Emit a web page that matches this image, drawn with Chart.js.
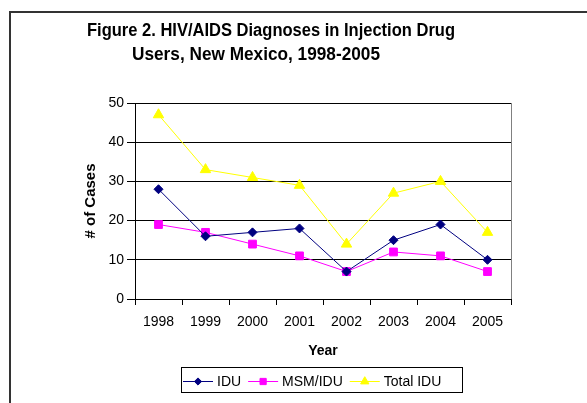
<!DOCTYPE html>
<html>
<head>
<meta charset="utf-8">
<script src="https://cdn.jsdelivr.net/npm/chart.js@4/dist/chart.umd.min.js"></script>
<style>
  html, body { margin:0; padding:0; background:#fff; overflow:hidden; }
  #wrap  { position:relative; width:587px; height:403px; }
  #frame { position:absolute; left:9px; top:11px; width:620px; height:440px;
           border-left:2px solid #333; border-top:2px solid #333; box-sizing:border-box; }
  #chart { position:absolute; left:0; top:0; }
</style>
</head>
<body>
<div id="wrap">
  <div id="frame"></div>
  <canvas id="chart" width="587" height="403"></canvas>
</div>
<script>
// ---- data ----
const YEARS     = ["1998","1999","2000","2001","2002","2003","2004","2005"];
const IDU       = [28, 16, 17, 18, 7, 15, 19, 10];
const MSM_IDU   = [19, 17, 14, 11, 7, 12, 11, 7];
const TOTAL_IDU = [47, 33, 31, 29, 14, 27, 30, 17];
const Y_TICKS   = [0, 10, 20, 30, 40, 50];

const TITLE_LINES = ["Figure 2. HIV/AIDS Diagnoses in Injection Drug", "Users, New Mexico, 1998-2005"];
const FONT = '"Liberation Sans", Arial, sans-serif';

// title drawn by hand (Excel squeezes it horizontally)
const titlePlugin = {
  id: 'xlTitle',
  afterDraw(chart) {
    const ctx = chart.ctx;
    ctx.save();
    ctx.fillStyle = '#000';
    ctx.font = 'bold 18px ' + FONT;
    ctx.textAlign = 'center';
    ctx.textBaseline = 'alphabetic';
    ctx.fillText(TITLE_LINES[0], 271, 36, 368);
    ctx.fillText(TITLE_LINES[1], 256, 60, 248);
    ctx.restore();
  }
};

// gray right edge of the plot area
const plotEdge = {
  id: 'plotEdge',
  afterDraw(chart) {
    const {ctx, chartArea:a} = chart;
    ctx.save();
    ctx.strokeStyle = '#808080';
    ctx.lineWidth = 1;
    ctx.beginPath();
    ctx.moveTo(Math.round(a.right) + 0.5, a.top);
    ctx.lineTo(Math.round(a.right) + 0.5, a.bottom);
    ctx.stroke();
    ctx.restore();
  }
};

// excel-style legend: line with marker, then label, in a box
const boxLegend = {
  id: 'boxLegend',
  afterDraw(chart) {
    const ctx = chart.ctx;
    ctx.save();
    ctx.strokeStyle = '#000';
    ctx.lineWidth = 1;
    ctx.strokeRect(181.5, 367.5, 281, 25);
    ctx.font = '14px ' + FONT;
    ctx.textBaseline = 'middle';
    let x = 183;
    const y = 381;
    chart.data.datasets.forEach(ds => {
      ctx.strokeStyle = ds.borderColor;
      ctx.fillStyle = ds.backgroundColor;
      ctx.lineWidth = 1;
      ctx.beginPath();
      ctx.moveTo(x, y + 0.5);
      ctx.lineTo(x + 30, y + 0.5);
      ctx.stroke();
      Chart.helpers.drawPoint(ctx, {pointStyle: ds.pointStyle, radius: ds.pointRadius * 0.8, rotation: 0, borderWidth: 1}, x + 15, y + 0.5);
      ctx.fillStyle = '#000';
      ctx.fillText(ds.label, x + 34, y + 1);
      x += 34 + ctx.measureText(ds.label).width + 7;
    });
    ctx.restore();
  }
};

function series(label, data, color, style, r){
  return { label, data, borderColor: color, backgroundColor: color, borderWidth: 1,
           pointStyle: style, pointRadius: r, pointHoverRadius: r, pointBorderWidth: 1,
           pointBackgroundColor: color, pointBorderColor: color, tension: 0, fill: false };
}

new Chart(document.getElementById('chart'), {
  type: 'line',
  data: {
    labels: YEARS,
    datasets: [
      series('IDU',       IDU,       '#000080', 'rectRot',  4.5),
      series('MSM/IDU',   MSM_IDU,   '#FF00FF', 'rect',     5.5),
      series('Total IDU', TOTAL_IDU, '#FFFF00', 'triangle', 6)
    ]
  },
  options: {
    responsive: false,
    animation: false,
    devicePixelRatio: 1,
    layout: { padding: { left: 0, right: 76, top: 103, bottom: 0 } },
    plugins: { legend: { display: false }, title: { display: false }, tooltip: { enabled: false } },
    scales: {
      x: {
        offset: true,
        grid: { display: true, offset: true, drawOnChartArea: false, drawTicks: true, tickLength: 6, color: '#000' },
        border: { display: true, color: '#000' },
        ticks: { color: '#000', font: { family: FONT, size: 14 }, padding: 9, maxRotation: 0 },
        title: { display: true, text: 'Year', color: '#000', font: { family: FONT, size: 14, weight: 'bold' }, padding: { top: 0, bottom: 43 } },
        afterFit(s) { s.height = 104; }
      },
      y: {
        min: 0, max: 50,
        afterBuildTicks(s) { s.ticks = Y_TICKS.map(v => ({ value: v })); },
        grid: { color: '#000', lineWidth: 1, drawTicks: true, tickLength: 8, tickColor: '#000' },
        border: { display: true, color: '#000' },
        ticks: { color: '#000', font: { family: FONT, size: 14 }, padding: 3 },
        title: { display: true, text: '# of Cases', color: '#000', font: { family: FONT, size: 15, weight: 'bold' }, padding: { top: 82, bottom: 0 } },
        afterFit(s) { s.width = 135; }
      }
    }
  },
  plugins: [titlePlugin, plotEdge, boxLegend]
});
</script>
</body>
</html>
